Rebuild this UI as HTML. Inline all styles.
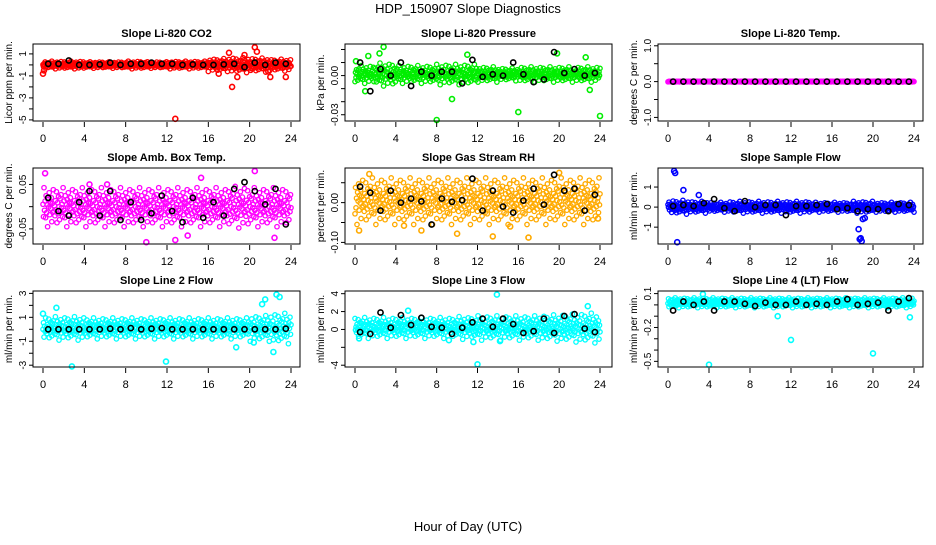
<!DOCTYPE html>
<html><head><meta charset="utf-8">
<style>
html,body{margin:0;padding:0;background:#fff;}
svg text{font-family:"Liberation Sans",Arial,sans-serif;}
</style></head>
<body>
<svg id="chart" width="936" height="540" viewBox="0 0 936 540" xmlns="http://www.w3.org/2000/svg">
<text x="468" y="13" text-anchor="middle" font-size="13">HDP_150907  Slope Diagnostics</text>
<text x="468" y="531" text-anchor="middle" font-size="13">Hour of Day (UTC)</text>
</svg>
<script>
// ---- data ----
const xTicks = [0,4,8,12,16,20,24];
const panelTitles = ["Slope Li-820 CO2","Slope Li-820 Pressure","Slope Li-820 Temp.","Slope Amb. Box Temp.","Slope Gas Stream RH","Slope Sample Flow","Slope Line 2 Flow","Slope Line 3 Flow","Slope Line 4 (LT) Flow"];
const yTitles = ["Licor ppm per min.","kPa per min.","degrees C per min.","degrees C per min.","percent per min.","ml/min per min.","ml/min per min.","ml/min per min.","ml/min per min."];
const seriesColors = ["#ff0000","#00ee00","#ff00ff","#ff00ff","#ffaa00","#0000ff","#00ffff","#00ffff","#00ffff"];
const yTicks = [[1,0,-1,-2,-3,-4,-5],[0.02,0.01,0,-0.01,-0.02,-0.03],[1,0.5,0,-0.5,-1],[0.05,0,-0.05],[0.05,0,-0.05,-0.1],[1,0,-1],[3,2,1,0,-1,-2,-3],[4,2,0,-2,-4],[0.1,0,-0.1,-0.2,-0.3,-0.4,-0.5]];
const yTickLabels = [["1","","-1","","-3","","-5"],["","","0.00","","","-0.03"],["1.0","","0.0","","-1.0"],["0.05","","-0.05"],["","0.00","","-0.10"],["1","0","-1"],["3","","1","","-1","","-3"],["4","2","0","","-4"],["0.1","","","-0.2","","","-0.5"]];
const yDomains = [[-5.1,1.9],[-0.0348,0.0242],[-1.1,1.05],[-0.084,0.087],[-0.104,0.087],[-1.84,1.95],[-3.15,3.2],[-4.2,4.3],[-0.55,0.123]];
const cloudCenter = [0, 0.001, 0, 0, 0.005, 0, 0.1, 0.2, 0.02];
const cloudSpread = [
 [0.35,0.35,0.3,0.3,0.35,0.3,0.35,0.35,0.6,0.7,0.65,0.55],
 [0.007,0.009,0.007,0.007,0.008,0.008,0.006,0.005,0.006,0.006,0.006,0.006],
 [0.01,0.01,0.01,0.01,0.01,0.01,0.01,0.01,0.01,0.01,0.01,0.01],
 [0.045,0.045,0.045,0.045,0.045,0.045,0.045,0.045,0.045,0.048,0.045,0.045],
 [0.06,0.06,0.06,0.06,0.06,0.06,0.06,0.06,0.06,0.06,0.06,0.06],
 [0.35,0.3,0.25,0.3,0.3,0.3,0.3,0.25,0.25,0.3,0.25,0.25],
 [1.0,1.0,0.9,0.9,0.9,0.9,0.9,0.9,0.9,0.9,1.1,1.3],
 [1.2,1.2,1.2,1.2,1.2,1.3,1.4,1.4,1.4,1.5,1.6,1.7],
 [0.045,0.045,0.045,0.045,0.045,0.045,0.045,0.045,0.045,0.045,0.045,0.045]
];
const cloudJitter = [0.05,-0.45,0.3,-0.15,0.75,-0.8,0.2,-0.35,0.5,0.0,-0.65,0.4,-0.25,0.6,-0.05,0.12,-0.5,0.95,-0.18,0.28,-0.55,0.55,-0.3,0.1,-1.0,0.35,-0.02,0.7,-0.4,0.22,-0.1,0.45,-0.75,0.16,-0.28,0.85,-0.22];
const outlierHours = [[12.8,18.3,20.5,20.7,18.8,23.5,0,0.1,19.5,18,22,17,20.2,21.8],[8,16,24,2.8,2.4,9.5,1.3,0.1,11,19.8,1,22.6,23],[],[0.2,10,12.8,20.5,14,15.3,4.5,22.4,6.2],[1.4,6.5,10,13.5,17,20,4.8,15.2,23.8,0.4],[0.6,0.7,0.9,18.7,18.9,18.6,19,1.5,3,19.2,18.8],[2.8,11.9,22.6,22.9,21.2,21.5,22.3,18.7,0,20.4,1.3],[13.9,12,11.6,22.8,14.2,5.2,9.2,0.4],[4,12,20,23.6,10.7,3.4]];
const outlierValues = [[-4.9,-2.0,1.6,1.2,-1.1,-1.1,-0.8,-0.5,0.9,1.1,-1.1,-0.8,-0.3,-0.6],[-0.034,-0.028,-0.031,0.022,0.017,-0.018,0.015,0.011,0.016,0.017,-0.012,0.014,-0.011],[],[0.075,-0.08,-0.075,0.08,-0.065,0.065,0.05,-0.07,0.05],[0.072,-0.07,-0.078,-0.085,-0.088,0.075,-0.058,-0.06,-0.04,-0.07],[1.8,1.7,-1.75,-1.6,-1.7,-1.1,-0.6,0.85,0.6,-0.55,-1.55],[-3.1,-2.7,2.9,2.7,2.1,2.5,-1.9,-1.5,1.3,-1.1,1.8],[3.9,-3.9,-1.4,2.6,-1.3,2.1,-1.2,-1.0],[-0.53,-0.31,-0.43,-0.11,-0.1,0.095]];
const blackHours = [0.5,1.5,2.5,3.5,4.5,5.5,6.5,7.5,8.5,9.5,10.5,11.5,12.5,13.5,14.5,15.5,16.5,17.5,18.5,19.5,20.5,21.5,22.5,23.5];
const blackValues = [
 [0.1,0.1,0.4,0,0,0.05,0.2,0,0.1,0.1,0.2,0.1,0.1,0,0.05,0,0,0.05,0.1,-0.2,0.2,0,0.2,0.1],
 [0.01,-0.012,0.005,0,0.01,-0.008,0.003,0,0.003,0.003,-0.006,0.012,-0.001,0.001,0,0.01,0.001,-0.005,-0.003,0.018,0.002,0.005,0,0.002],
 [0,0,0,0,0,0,0,0,0,0,0,0,0,0,0,0,0,0,0,0,0,0,0,0],
 [0.02,-0.01,-0.02,0.01,0.035,-0.02,0.035,-0.03,0.01,-0.03,-0.015,0.025,-0.01,-0.035,0.02,-0.025,0.01,-0.02,0.04,0.055,0.035,0.005,0.04,-0.04],
 [0.04,0.025,-0.02,0.03,0,0.01,0.003,-0.055,0.01,0.002,0.006,0.06,-0.02,0.03,-0.01,-0.025,0.005,0.035,-0.005,0.07,0.03,0.035,-0.02,0.02],
 [0.05,0.1,0.05,0.2,0.4,-0.05,-0.2,0.3,0,0.1,0.1,-0.4,0.05,0.05,0.1,0.15,-0.1,-0.05,-0.2,-0.1,-0.1,-0.2,0.15,0.1],
 [0,0,0,0,0,0,0.05,0,0.1,0,0.05,0.1,0,0,0,0,0,0,0,0,0,0,0,0.05],
 [-0.3,-0.5,1.9,0.2,1.6,0.5,1.3,0.3,0.2,-0.5,0.2,0.8,1.2,0.3,1.2,0.6,-0.4,-0.2,1.2,-0.4,1.5,1.7,0.1,-0.3],
 [-0.05,0.03,0.0,0.03,-0.05,0.03,0.03,0.01,-0.01,0.02,0.0,0.0,0.03,0.0,0.01,0.0,0.03,0.05,0.0,0.01,0.02,-0.05,0.03,0.06]
];

// ---- layout ----
const colBox = [[33,300],[345,612],[658,923]];
const colX = [[43,291],[355,600],[668,914]];
const rowBox = [[44,121],[168,244],[291,367]];
const NS = "http://www.w3.org/2000/svg";
const svg = document.getElementById('chart');
function mk(tag, attrs, parent){ const e=document.createElementNS(NS,tag); for(const k in attrs) e.setAttribute(k,attrs[k]); (parent||svg).appendChild(e); return e; }

for(let p=0;p<9;p++){
  const c=p%3, r=Math.floor(p/3);
  const [bx0,bx1]=colBox[c], [by0,by1]=rowBox[r], [px0,px1]=colX[c];
  const [d0,d1]=yDomains[p];
  const xs=h=>px0+(px1-px0)*h/24;
  const ys=v=>by1-(by1-by0)*(v-d0)/(d1-d0);
  const g=mk('g',{});
  
  
  const t=mk('text',{x:(bx0+bx1)/2,y:by0-7,'text-anchor':'middle','font-size':11,'font-weight':'bold'},g);
  t.textContent=panelTitles[p];
  
  
  const yt=mk('text',{transform:`translate(${bx0-21},${(by0+by1)/2}) rotate(-90)`,'text-anchor':'middle','font-size':10},g);
  yt.textContent=yTitles[p];
  
  
  const pts=mk('g',{},g);
  
  
  const col=seriesColors[p];
  let k=0;
  for(let i=0;i<=480;i++){
    const h=i/20;
    const seg=Math.min(11,Math.floor(h/2));
    const v=cloudCenter[p]+cloudSpread[p][seg]*cloudJitter[(k++ + p*5)%cloudJitter.length];
    const cc=mk('circle',{cx:xs(h).toFixed(1),cy:ys(v).toFixed(1),r:2.2,fill:'none',stroke:col,'stroke-width':1.3},pts);
    
    
  }
  outlierHours[p].forEach((h,i)=>{
    const cc=mk('circle',{cx:xs(h).toFixed(1),cy:ys(outlierValues[p][i]).toFixed(1),r:2.5,fill:'none',stroke:col,'stroke-width':1.6},pts);
    
    
  });
  blackHours.forEach((h,i)=>{
    const cc=mk('circle',{cx:xs(h).toFixed(1),cy:ys(blackValues[p][i]).toFixed(1),r:2.6,fill:'none',stroke:'#000','stroke-width':1.6},pts);
    
    
  });
  const box=mk('rect',{x:bx0,y:by0,width:bx1-bx0,height:by1-by0,fill:'none',stroke:'#000','stroke-width':1},g);
  
  
  xTicks.forEach(v=>{
    const x=xs(v);
    const l=mk('line',{x1:x,x2:x,y1:by1+1,y2:by1+6,stroke:'#000'},g);
    
    
    const tx=mk('text',{x:x,y:by1+21,'text-anchor':'middle','font-size':11},g);
    tx.textContent=v;
    
    
  });
  yTicks[p].forEach((v,i)=>{
    const y=ys(v);
    const l=mk('line',{x1:bx0-4,x2:bx0,y1:y,y2:y,stroke:'#000'},g);
    
    
    if(yTickLabels[p][i]){
      const tx=mk('text',{transform:`translate(${bx0-7},${y}) rotate(-90)`,'text-anchor':'middle','font-size':10},g);
      tx.textContent=yTickLabels[p][i];
      
      
    }
  });
}
</script>
</body></html>
